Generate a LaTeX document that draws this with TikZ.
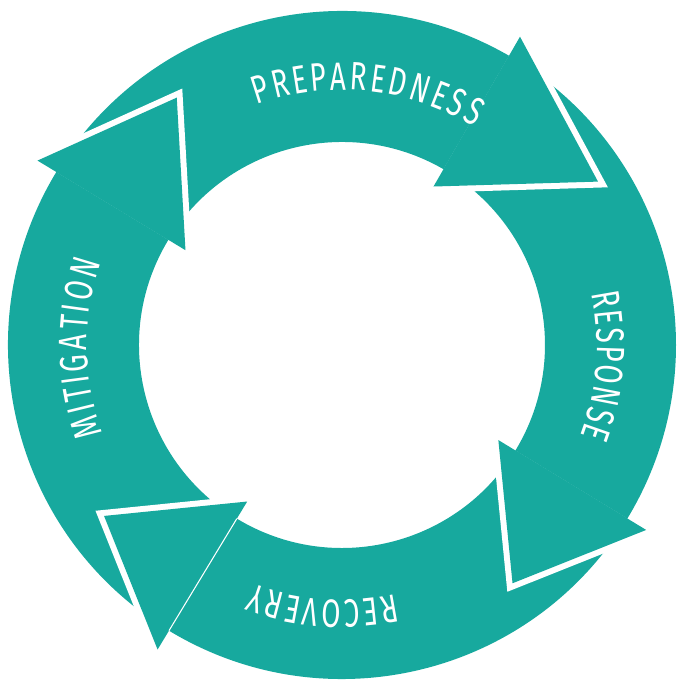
\documentclass[tikz,border=0pt]{standalone}
\usepackage{fontspec}
\newfontfamily\cyclefont[FakeStretch=0.7]{Fira Sans}
\usepackage{tikz}
\usetikzlibrary{calc, decorations.text}
\definecolor{cycleteal}{RGB}{23,169,158}

\begin{document}
\begin{tikzpicture}[ringtext/.style={decorate, decoration={text effects along path, text={#1},
    text effects/.cd, text along path, fit text to path,
    characters={text=white, inner sep=0pt, font=\fontsize{22.5pt}{22.5pt}\cyclefont}}}]
  \tikzstyle{band} = [fill=cycleteal]
  \tikzstyle{head} = [fill=cycleteal, preaction={draw=white, line width=0.24cm, line join=miter}]

  \useasboundingbox (-6.84,-6.84) rectangle (6.82,6.90);

  % ring segments
  \fill[band] (148.8:6.68) arc[start angle=148.8, end angle=60, radius=6.68] -- (60:4.06) arc[start angle=60, end angle=148.8, radius=4.06] -- cycle;
  \fill[band] (60:6.68) arc[start angle=60, end angle=-31.3, radius=6.68] -- (-31.3:4.06) arc[start angle=-31.3, end angle=60, radius=4.06] -- cycle;
  \fill[band] (-31.3:6.68) arc[start angle=-31.3, end angle=-121.2, radius=6.68] -- (-121.2:4.06) arc[start angle=-121.2, end angle=-31.3, radius=4.06] -- cycle;
  \fill[band] (-121.2:6.68) arc[start angle=-121.2, end angle=-211.2, radius=6.68] -- (-211.2:4.06) arc[start angle=-211.2, end angle=-121.2, radius=4.06] -- cycle;

  % arrow heads
  \path[head] (60:7.12) -- ($(60:5.39)+(-30:2.8)$) -- (60:3.66);
  \path[head] (-31.3:7.12) -- ($(-31.3:5.39)+(-121.3:2.3)$) -- (-31.3:3.66);
  \path[head] (-121.2:7.12) -- ($(-121.2:5.39)+(-211.2:2.3)$) -- (-121.2:3.66);
  \path[head] (148.8:7.12) -- ($(148.8:5.39)+(58.8:2.52)$) -- (148.8:3.66);
  \draw[white, line width=0.6pt] (-121.2:4.06) -- (-121.2:6.68);

  % labels
  \path[ringtext=PREPAREDNESS] (109.5:5.1) arc[start angle=109.5, end angle=58.8, radius=5.1];
  \path[ringtext=RESPONSE] (11.7:5.1) arc[start angle=11.7, end angle=-20.8, radius=5.1];
  \path[ringtext=RECOVERY] (-78:5.1) arc[start angle=-78, end angle=-110.4, radius=5.1];
  \path[ringtext=MITIGATION] (200.2:5.1) arc[start angle=200.2, end angle=161, radius=5.1];
\end{tikzpicture}
\end{document}
